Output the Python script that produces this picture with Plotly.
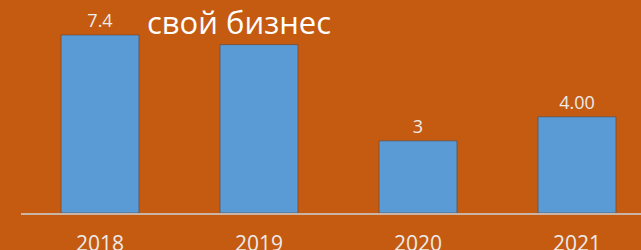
import plotly.graph_objects as go

years = ["2018", "2019", "2020", "2021"]
values = [7.4, 7.0, 3.0, 4.0]
value_labels = ["7.4", "", "3", "4.00"]
title_text = "свой бизнес"

BG = "#C55A11"
BAR = "#5B9BD5"
TXT = "#ECECEC"
FONT = "Open Sans"

fig = go.Figure()
fig.add_trace(go.Bar(
    x=list(range(len(years))),
    y=values,
    text=value_labels,
    textposition="outside",
    textfont=dict(family=FONT, size=18, color=TXT),
    cliponaxis=False,
    width=0.49,
    marker=dict(color=BAR, line=dict(color="rgba(90,70,60,0.6)", width=1)),
    hoverinfo="skip",
))

L = 21
plot_w = 641 - L
fig.update_layout(
    width=641, height=250,
    paper_bgcolor=BG, plot_bgcolor=BG,
    margin=dict(l=L, r=0, t=0, b=37),
    showlegend=False,
    title=dict(
        text=title_text,
        font=dict(family=FONT, size=31, color="#FFFFFF"),
        x=239 / 641, xref="container", xanchor="center",
        y=1 - 23 / 250, yref="container", yanchor="middle",
    ),
    xaxis=dict(
        tickmode="array",
        tickvals=list(range(len(years))),
        ticktext=years,
        range=[-0.5 + 0.5 / 159, -0.5 + 0.5 / 159 + plot_w / 159],
        showgrid=False, zeroline=False,
        showline=True, linecolor="#C9B4A6", linewidth=2,
        ticks="outside", ticklen=11, tickcolor="rgba(0,0,0,0)",
        tickfont=dict(family=FONT, size=21, color=TXT),
        automargin=False,
    ),
    yaxis=dict(
        range=[0, 213 / 24.05],
        visible=False,
        automargin=False,
    ),
)

post = ("document.body.style.margin='0';"
        "document.body.style.padding='0';"
        "document.body.style.overflow='hidden';"
        "document.body.style.background='%s';" % BG)

fig.write_html("out.html", post_script=post, config={"displayModeBar": False})
